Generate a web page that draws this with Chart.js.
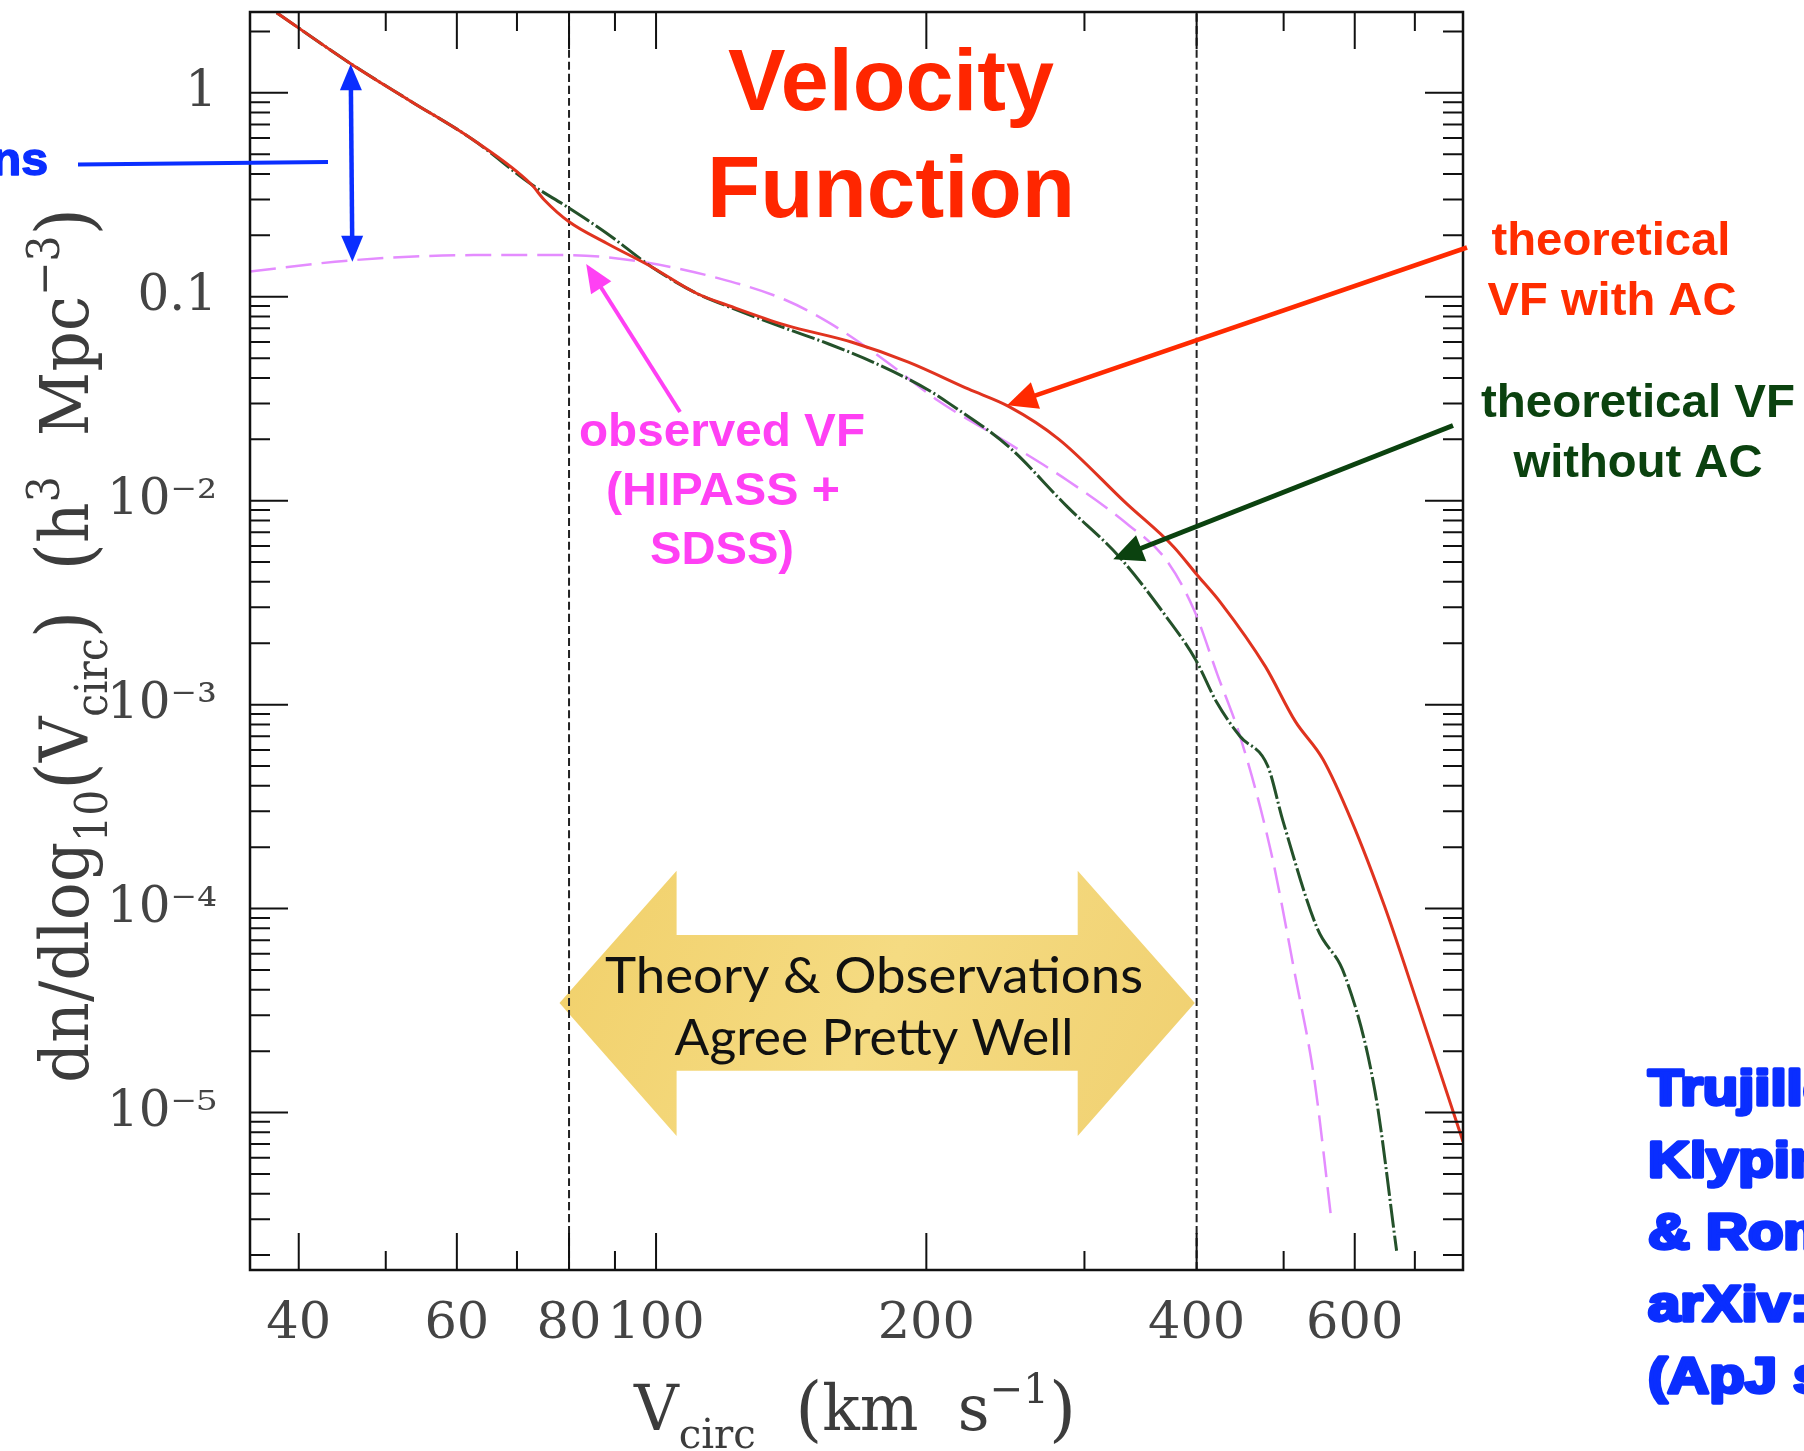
<!DOCTYPE html>
<html lang="en">
<head>
<meta charset="utf-8">
<title>Velocity Function</title>
<script src="https://cdn.jsdelivr.net/npm/chart.js@4"></script>
<style>
  html, body { margin: 0; padding: 0; background: #fff; }
  .wrap { position: relative; width: 1804px; height: 1451px; overflow: hidden; }
</style>
</head>
<body>
<div class="wrap"><canvas id="vfchart"></canvas></div>
<script>
// theoretical VF with adiabatic contraction (red, solid)
const vAC = [37.8, 45.7, 53.3, 62.6, 72.6, 75.1, 80.0, 88.1, 98.9, 110.9, 121.5, 139.4, 165, 191, 223, 247, 281, 334, 377, 399, 426, 477, 515, 553, 595, 648, 705, 792];
const phiAC = [2.47, 1.39, 0.91, 0.587, 0.356, 0.298, 0.233, 0.183, 0.140, 0.104, 0.0893, 0.0726, 0.0600, 0.0478, 0.0352, 0.0290, 0.0200, 0.0097, 0.00595, 0.00441, 0.00314, 0.00154, 0.00083, 0.00054, 0.00027, 0.000102, 0.000034, 0.0000072];

// theoretical VF without AC (dark green, dash-dot)
const vNoAC = [37.8, 45.7, 53.3, 62.6, 72.6, 79.6, 88.1, 98.9, 110.9, 121.5, 139.4, 156, 175, 201, 212, 247, 287, 328, 370, 399, 421, 447, 480, 499, 545, 585, 632, 668];
const phiNoAC = [2.47, 1.39, 0.91, 0.587, 0.356, 0.276, 0.205, 0.140, 0.104, 0.088, 0.070, 0.0585, 0.0475, 0.0349, 0.030, 0.0184, 0.00935, 0.00531, 0.0027, 0.00166, 0.00103, 0.0007, 0.0005, 0.00027, 0.00008, 0.000047, 0.0000127, 0.0000021];

// observed VF, HIPASS + SDSS (pink, dashed)
const vObs = [35.3, 45.9, 62.6, 80, 96.7, 117.5, 139.4, 156.3, 179.5, 206, 247, 287, 334, 370, 397.5, 422, 448, 484, 515, 541, 565];
const phiObs = [0.133, 0.151, 0.160, 0.160, 0.148, 0.123, 0.0964, 0.074, 0.049, 0.031, 0.0191, 0.0126, 0.00775, 0.00512, 0.0029, 0.0014, 0.00068, 0.00019, 0.000047, 0.0000145, 0.000003];

// vertical reference lines (km/s)
const cutLines = [80, 400];

const xMajor = [40, 60, 80, 100, 200, 400, 600];
const xMinor = [50, 70, 90, 300, 500, 700];
const yMajor = [1e-5, 1e-4, 1e-3, 1e-2, 0.1, 1];
const yLabels = ['10⁻⁵', '10⁻⁴', '10⁻³', '10⁻²', '0.1', '1'];

const X_MIN = 35.3, X_MAX = 792;
const Y_MIN = 1.69e-6, Y_MAX = 2.49;

const SERIF = '"DejaVu Serif"';
const SANS = '"Liberation Sans"';

function pts(xs, ys) {
    return xs.map((v, i) => ({ x: v, y: ys[i] }));
}

// text with optional horizontal fit to a target width (or a fixed stretch)
function label(ctx, str, x, y, font, color, opts = {}) {
    ctx.save();
    ctx.font = font;
    ctx.fillStyle = color;
    ctx.textBaseline = 'alphabetic';
    ctx.textAlign = 'left';
    const w = ctx.measureText(str).width;
    const k = opts.width ? opts.width / w : (opts.stretch || 1);
    const align = opts.align || 'center';
    const x0 = align === 'center' ? x - w * k / 2 : align === 'right' ? x - w * k : x;
    ctx.translate(x0, y);
    ctx.scale(k, 1);
    ctx.fillText(str, 0, 0);
    if (opts.heavy) {
        ctx.strokeStyle = color;
        ctx.lineWidth = opts.heavy;
        ctx.lineJoin = 'round';
        ctx.strokeText(str, 0, 0);
    }
    ctx.restore();
}

// math-ish axis title: parts are [text, kind], kind = sub | sup | paren
function mathText(ctx, parts, size, target) {
    const segs = parts.map(([t, kind]) => {
        let s = size;
        if (kind === 'sub' || kind === 'sup') s = size * 0.65;
        if (kind === 'paren') s = size * 1.12;
        ctx.font = s + 'px ' + SERIF;
        return { t, kind, s, w: ctx.measureText(t).width };
    });
    const total = segs.reduce((a, b) => a + b.w, 0);
    const k = target / total;
    ctx.save();
    ctx.scale(k, 1);
    let cx = 0;
    segs.forEach(sg => {
        ctx.font = sg.s + 'px ' + SERIF;
        let dy = 0;
        if (sg.kind === 'sub') dy = size * 0.28;
        if (sg.kind === 'sup') dy = -size * 0.42;
        if (sg.kind === 'paren') dy = size * 0.05;
        ctx.fillText(sg.t, cx, dy);
        cx += sg.w;
    });
    ctx.restore();
}

function head(ctx, xt, yt, ang, len, half) {
    const c = Math.cos(ang), s = Math.sin(ang);
    ctx.beginPath();
    ctx.moveTo(xt, yt);
    ctx.lineTo(xt - len * c + half * s, yt - len * s - half * c);
    ctx.lineTo(xt - len * c - half * s, yt - len * s + half * c);
    ctx.closePath();
    ctx.fill();
}

function arrow(ctx, x0, y0, x1, y1, color, w, len, half, both) {
    const ang = Math.atan2(y1 - y0, x1 - x0);
    const c = Math.cos(ang), s = Math.sin(ang);
    ctx.save();
    ctx.strokeStyle = color;
    ctx.fillStyle = color;
    ctx.lineWidth = w;
    ctx.beginPath();
    const back = both ? len - 2 : 0;
    ctx.moveTo(x0 + back * c, y0 + back * s);
    ctx.lineTo(x1 - (len - 2) * c, y1 - (len - 2) * s);
    ctx.stroke();
    head(ctx, x1, y1, ang, len, half);
    if (both) head(ctx, x0, y0, ang + Math.PI, len, half);
    ctx.restore();
}

// frame with inward ticks on all four sides
const framePlugin = {
    id: 'frame',
    afterDatasetsDraw(chart) {
        const { ctx, chartArea: a, scales: { x, y } } = chart;
        ctx.save();
        ctx.strokeStyle = '#111';
        ctx.lineWidth = 2;
        ctx.beginPath();
        const xt = (vals, len) => vals.forEach(v => {
            const p = x.getPixelForValue(v);
            ctx.moveTo(p, a.bottom); ctx.lineTo(p, a.bottom - len);
            ctx.moveTo(p, a.top); ctx.lineTo(p, a.top + len);
        });
        const yt = (vals, len) => vals.forEach(v => {
            const p = y.getPixelForValue(v);
            ctx.moveTo(a.left, p); ctx.lineTo(a.left + len, p);
            ctx.moveTo(a.right, p); ctx.lineTo(a.right - len, p);
        });
        xt(xMajor, 37);
        xt(xMinor, 19);
        yt(yMajor, 38);
        const yMinor = [];
        for (let d = -6; d <= 0; d++) {
            for (let m = 2; m <= 9; m++) {
                const v = m * Math.pow(10, d);
                if (v > Y_MIN && v < Y_MAX) yMinor.push(v);
            }
        }
        yt(yMinor, 20);
        ctx.stroke();
        ctx.lineWidth = 2.5;
        ctx.strokeRect(a.left, a.top, a.right - a.left, a.bottom - a.top);
        ctx.restore();
    }
};

const notesPlugin = {
    id: 'notes',
    beforeDatasetsDraw(chart) {
        const ctx = chart.ctx;
        // big yellow double arrow
        ctx.save();
        const g = ctx.createLinearGradient(560, 870, 1195, 1136);
        g.addColorStop(0, '#f1d06a');
        g.addColorStop(0.5, '#f5db82');
        g.addColorStop(1, '#f0d070');
        ctx.fillStyle = g;
        ctx.beginPath();
        ctx.moveTo(559.5, 1003);
        ctx.lineTo(676.6, 870.7);
        ctx.lineTo(676.6, 935);
        ctx.lineTo(1077.7, 935);
        ctx.lineTo(1077.7, 870.7);
        ctx.lineTo(1194.8, 1003);
        ctx.lineTo(1077.7, 1136);
        ctx.lineTo(1077.7, 1070.7);
        ctx.lineTo(676.6, 1070.7);
        ctx.lineTo(676.6, 1136);
        ctx.closePath();
        ctx.fill();
        ctx.restore();
        label(ctx, 'Theory & Observations', 874, 993, '50px Lato', '#111', { width: 538 });
        label(ctx, 'Agree Pretty Well', 874, 1055, '50px Lato', '#111', { width: 399 });
    },
    afterDraw(chart) {
        const { ctx, scales: { x, y } } = chart;
        const px = v => x.getPixelForValue(v);
        const py = v => y.getPixelForValue(v);

        // axis titles
        ctx.save();
        ctx.fillStyle = '#3c3c3c';
        ctx.textBaseline = 'alphabetic';
        ctx.translate(634, 1430);
        mathText(ctx, [['V'], ['circ', 'sub'], ['  '], ['(', 'paren'], ['km  s'], ['−1', 'sup'], [')', 'paren']], 64, 442);
        ctx.restore();

        ctx.save();
        ctx.fillStyle = '#3c3c3c';
        ctx.textBaseline = 'alphabetic';
        ctx.translate(88, 1083);
        ctx.rotate(-Math.PI / 2);
        mathText(ctx, [['dn/dlog'], ['10', 'sub'], ['(', 'paren'], ['V'], ['circ', 'sub'], [')', 'paren'], ['  '], ['(', 'paren'], ['h'], ['3', 'sup'], ['  Mpc'], ['−3', 'sup'], [')', 'paren']], 68, 875);
        ctx.restore();

        // title
        label(ctx, 'Velocity', 891, 110, 'bold 88px ' + SANS, '#ff2600', { width: 326 });
        label(ctx, 'Function', 891, 217, 'bold 88px ' + SANS, '#ff2600', { width: 368 });

        // curve labels
        label(ctx, 'theoretical', 1611, 255, 'bold 47px ' + SANS, '#ff2d00', { width: 239 });
        label(ctx, 'VF with AC', 1612, 315, 'bold 47px ' + SANS, '#ff2d00', { width: 249 });
        label(ctx, 'theoretical VF', 1638, 417, 'bold 47px ' + SANS, '#0b420f', { width: 314 });
        label(ctx, 'without AC', 1638, 477, 'bold 47px ' + SANS, '#0b420f', { width: 249 });
        label(ctx, 'observed VF', 722, 446, 'bold 47px ' + SANS, '#ff40f4', { width: 286 });
        label(ctx, '(HIPASS +', 723, 505, 'bold 47px ' + SANS, '#ff40f4', { width: 234 });
        label(ctx, 'SDSS)', 722, 564, 'bold 47px ' + SANS, '#ff40f4', { width: 144 });

        // arrows to the curves
        arrow(ctx, 1467, 247.5, px(246), py(0.0294), '#ff2a00', 4.5, 30, 14);
        arrow(ctx, 1453, 425.5, px(323), py(0.00516), '#0b420f', 5, 30, 14);
        arrow(ctx, 680, 412, px(83.6), py(0.1446), '#ff40f4', 4, 28, 12);
        arrow(ctx, px(45.7), py(1.38), px(45.9), py(0.1485), '#0a2eff', 4.5, 26, 11, true);

        // cut-off blue note on the left
        ctx.save();
        ctx.strokeStyle = '#0a2eff';
        ctx.lineWidth = 4;
        ctx.beginPath();
        ctx.moveTo(78, 164.5);
        ctx.lineTo(328, 162);
        ctx.stroke();
        ctx.restore();
        label(ctx, 'Simulations', 48, 175, 'bold 46px ' + SANS, '#0a2eff', { align: 'right', heavy: 1.5, stretch: 1.05 });

        // reference, cut off by the right edge
        const refs = ['Trujillo-Gomez,', 'Klypin, Primack', '& Romanowsky', 'arXiv:1005.1289', '(ApJ submitted)'];
        refs.forEach((r, i) => {
            label(ctx, r, 1648, 1104.5 + i * 72, 'bold 50px ' + SANS, '#0a2eff', { align: 'left', heavy: 3.5, stretch: 1.16 });
        });
    }
};

const datasets = [
    {
        label: 'theoretical VF with AC',
        data: pts(vAC, phiAC),
        borderColor: '#e0331f',
        borderWidth: 3,
    },
    {
        label: 'theoretical VF without AC',
        data: pts(vNoAC, phiNoAC),
        borderColor: '#24512a',
        borderWidth: 3,
        borderDash: [24, 3, 2, 3],
    },
    {
        label: 'observed VF (HIPASS + SDSS)',
        data: pts(vObs, phiObs),
        borderColor: '#e48cff',
        borderWidth: 2.5,
        borderDash: [26, 10],
    },
];
cutLines.forEach(v => {
    datasets.push({
        label: 'V = ' + v,
        data: [{ x: v, y: Y_MIN }, { x: v, y: Y_MAX }],
        borderColor: '#222',
        borderWidth: 2,
        borderDash: [8, 4],
    });
});
datasets.forEach(d => {
    d.showLine = true;
    d.pointRadius = 0;
    d.fill = false;
    d.cubicInterpolationMode = 'monotone';
});

new Chart(document.getElementById('vfchart'), {
    type: 'scatter',
    data: { datasets: datasets },
    options: {
        responsive: true,
        maintainAspectRatio: false,
        animation: false,
        layout: { padding: { left: 0, right: 341, top: 12, bottom: 0 } },
        plugins: {
            legend: { display: false },
            tooltip: { enabled: false },
        },
        scales: {
            x: {
                type: 'logarithmic',
                min: X_MIN,
                max: X_MAX,
                grid: { display: false, drawTicks: false },
                border: { display: false },
                afterBuildTicks: scale => { scale.ticks = xMajor.map(v => ({ value: v })); },
                afterFit: scale => { scale.height = 181; scale.paddingLeft = 0; scale.paddingRight = 0; },
                ticks: {
                    autoSkip: false,
                    maxRotation: 0,
                    minRotation: 0,
                    padding: 24,
                    color: '#444',
                    font: { family: 'DejaVu Serif', size: 51 },
                    callback: v => String(v),
                },
            },
            y: {
                type: 'logarithmic',
                min: Y_MIN,
                max: Y_MAX,
                grid: { display: false, drawTicks: false },
                border: { display: false },
                afterBuildTicks: scale => { scale.ticks = yMajor.map(v => ({ value: v })); },
                afterFit: scale => { scale.width = 250; scale.paddingTop = 0; scale.paddingBottom = 0; },
                ticks: {
                    autoSkip: false,
                    padding: 33,
                    color: '#444',
                    font: { family: 'DejaVu Serif', size: 50 },
                    callback: v => {
                        const i = yMajor.indexOf(v);
                        return i >= 0 ? yLabels[i] : '';
                    },
                },
            },
        },
    },
    plugins: [framePlugin, notesPlugin],
});
</script>
</body>
</html>
